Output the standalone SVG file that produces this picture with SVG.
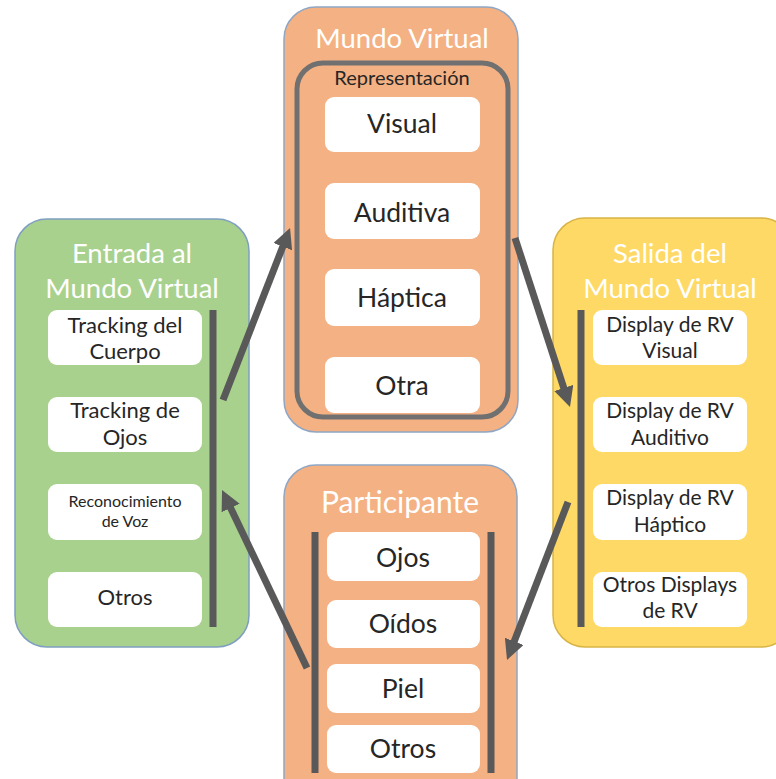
<svg xmlns="http://www.w3.org/2000/svg" width="776" height="779" viewBox="0 0 776 779">
<defs>
<style>
.orange{fill:#F4B183;stroke:#8FA6C4;stroke-width:1.5}
.green{fill:#A9D18E;stroke:#7F9FC0;stroke-width:1.5}
.yellow{fill:#FFD966;stroke:#D8B447;stroke-width:1.5}
.item{fill:#FFFFFF}
.bar{stroke:#595959;stroke-width:7;fill:none}
.title{font-family:Lato,"Liberation Sans",sans-serif;fill:#FFFFFF;text-anchor:middle;font-size:27.5px}
.t{font-family:Lato,"Liberation Sans",sans-serif;fill:#262626;text-anchor:middle}
.big{font-size:26.5px}
.mid{font-size:21px}
.sm{font-size:16px}
.conn{stroke:#595959;stroke-width:7;fill:none;marker-end:url(#ah)}
</style>
<marker id="ah" markerUnits="userSpaceOnUse" markerWidth="20" markerHeight="20" viewBox="0 0 20 20" refX="2" refY="10" orient="auto">
<path d="M0,0 L20,10 L0,20 z" fill="#595959"/>
</marker>
</defs>
<rect width="776" height="779" fill="#FFFFFF"/>

<g id="mundo-virtual">
<rect class="orange" x="284" y="7" width="234" height="425" rx="32"/>
<text class="title" x="402" y="48">Mundo Virtual</text>
<rect x="297" y="63" width="211" height="354" rx="26" fill="none" stroke="#707070" stroke-width="5"/>
<text class="t" x="402" y="85" style="font-size:20px">Representación</text>
<rect class="item" x="325" y="97" width="155" height="55" rx="9"/>
<text class="t big" x="402" y="133">Visual</text>
<rect class="item" x="325" y="183" width="155" height="56" rx="9"/>
<text class="t big" x="402" y="222">Auditiva</text>
<rect class="item" x="325" y="269" width="155" height="57" rx="9"/>
<text class="t big" x="402" y="307">Háptica</text>
<rect class="item" x="325" y="357" width="155" height="56" rx="9"/>
<text class="t big" x="402" y="395">Otra</text>
</g>

<g id="entrada">
<rect class="green" x="15" y="219" width="234" height="428" rx="32"/>
<text class="title" x="132" y="263">Entrada al</text>
<text class="title" x="132" y="298">Mundo Virtual</text>
<rect class="item" x="48" y="310" width="154" height="55" rx="9"/>
<text class="t" x="125" y="333" style="font-size:22px">Tracking del</text>
<text class="t" x="125" y="359" style="font-size:22px">Cuerpo</text>
<rect class="item" x="48" y="397" width="154" height="55" rx="9"/>
<text class="t" x="125" y="418" style="font-size:22px">Tracking de</text>
<text class="t" x="125" y="445" style="font-size:22px">Ojos</text>
<rect class="item" x="48" y="484" width="154" height="56" rx="9"/>
<text class="t sm" x="125" y="507">Reconocimiento</text>
<text class="t sm" x="125" y="527">de Voz</text>
<rect class="item" x="48" y="572" width="154" height="55" rx="9"/>
<text class="t" x="125" y="605" style="font-size:22px">Otros</text>
<line class="bar" x1="213" y1="310" x2="213" y2="627"/>
</g>

<g id="salida">
<rect class="yellow" x="553" y="218" width="240" height="429" rx="32"/>
<text class="title" x="670" y="263">Salida del</text>
<text class="title" x="670" y="298">Mundo Virtual</text>
<rect class="item" x="593" y="310" width="154" height="55" rx="9"/>
<text class="t mid" x="670" y="332">Display de RV</text>
<text class="t mid" x="670" y="358">Visual</text>
<rect class="item" x="593" y="397" width="154" height="55" rx="9"/>
<text class="t mid" x="670" y="418">Display de RV</text>
<text class="t mid" x="670" y="445">Auditivo</text>
<rect class="item" x="593" y="484" width="154" height="56" rx="9"/>
<text class="t mid" x="670" y="505">Display de RV</text>
<text class="t mid" x="670" y="532">Háptico</text>
<rect class="item" x="593" y="572" width="154" height="55" rx="9"/>
<text class="t mid" x="670" y="592">Otros Displays</text>
<text class="t mid" x="670" y="618">de RV</text>
<line class="bar" x1="581" y1="310" x2="581" y2="627"/>
</g>

<g id="participante">
<rect class="orange" x="284" y="465" width="233" height="345" rx="32"/>
<text class="title" x="400" y="513" style="font-size:30px">Participante</text>
<rect class="item" x="327" y="532" width="153" height="49" rx="9"/>
<text class="t big" x="403" y="567">Ojos</text>
<rect class="item" x="327" y="600" width="153" height="48" rx="9"/>
<text class="t big" x="403" y="633">Oídos</text>
<rect class="item" x="327" y="664" width="153" height="49" rx="9"/>
<text class="t big" x="403" y="698">Piel</text>
<rect class="item" x="327" y="725" width="153" height="48" rx="9"/>
<text class="t big" x="403" y="758">Otros</text>
<line class="bar" x1="315" y1="532" x2="315" y2="773"/>
<line class="bar" x1="491" y1="532" x2="491" y2="773"/>
</g>

<g id="connectors">
<line class="conn" x1="223" y1="400" x2="283.5" y2="244.8"/>
<line class="conn" x1="515" y1="238" x2="564.4" y2="389.9"/>
<line class="conn" x1="568" y1="502" x2="513.5" y2="643.2"/>
<line class="conn" x1="307" y1="668" x2="229.8" y2="506.2"/>
</g>
</svg>
